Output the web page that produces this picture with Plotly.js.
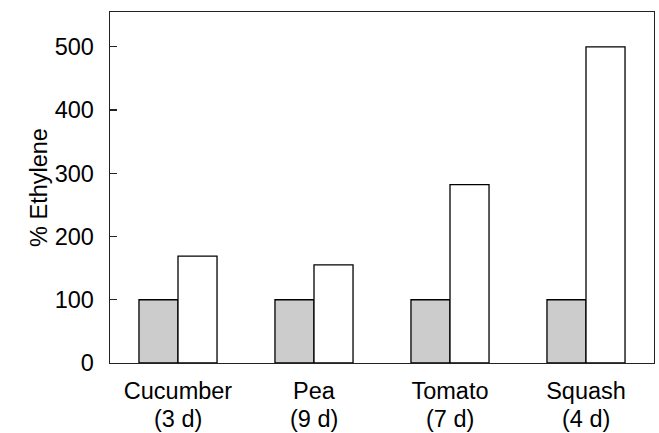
<!DOCTYPE html>
<html>
<head>
<meta charset="utf-8">
<script src="https://cdn.plot.ly/plotly-3.0.1.min.js"></script>
<style>html,body{margin:0;padding:0;background:#fff;}#chart{width:659px;height:433px;}</style>
</head>
<body>
<div id="chart"></div>
<script>
const crops = ["Cucumber", "Pea", "Tomato", "Squash"];
const durations = ["(3 d)", "(9 d)", "(7 d)", "(4 d)"];
const controlValues = [100, 100, 100, 100];
const treatedValues = [169, 155, 282, 500];
const yTicks = [0, 100, 200, 300, 400, 500];

const traces = [
  {type: "bar", x: crops, y: controlValues, marker: {color: "#cccccc", line: {color: "#000", width: 1.3}}, hoverinfo: "none"},
  {type: "bar", x: crops, y: treatedValues, marker: {color: "#ffffff", line: {color: "#000", width: 1.3}}, hoverinfo: "none"}
];
const font = {family: "Liberation Sans, Arial, sans-serif", size: 23.5, color: "#000"};
const annotations = crops.map((c, i) => ({
  x: c, y: 0, xref: "x", yref: "paper", text: durations[i], showarrow: false,
  yanchor: "top", yshift: -41, font: font
}));
const layout = {
  width: 659, height: 433,
  margin: {l: 110, r: 5, t: 12, b: 70},
  paper_bgcolor: "#fff", plot_bgcolor: "#fff",
  showlegend: false,
  barmode: "group", bargap: 0.426, bargroupgap: 0,
  font: font,
  annotations: annotations,
  xaxis: {
    range: [-0.5, 3.5], showgrid: false, zeroline: false,
    showline: true, mirror: true, linecolor: "#222", linewidth: 1.4,
    ticks: "", tickfont: font, ticklabelstandoff: 6
  },
  yaxis: {
    range: [0, 555], showgrid: false, zeroline: false,
    showline: true, mirror: true, linecolor: "#222", linewidth: 1.4,
    tickvals: yTicks, ticktext: yTicks.map(String),
    ticks: "inside", ticklen: 7, tickcolor: "#222", tickwidth: 1.4,
    tickfont: font, ticklabelstandoff: 10,
    title: {text: "% Ethylene", font: font, standoff: 0}
  }
};
Plotly.newPlot("chart", traces, layout, {staticPlot: true});
</script>
</body>
</html>
